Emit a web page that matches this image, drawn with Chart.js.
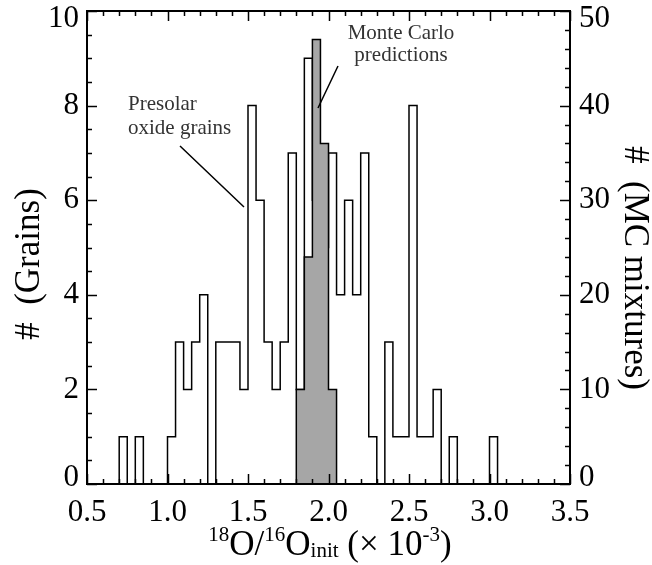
<!DOCTYPE html>
<html>
<head>
<meta charset="utf-8">
<script src="https://cdn.jsdelivr.net/npm/chart.js@4.4.0/dist/chart.umd.min.js"></script>
<style>
  html, body { margin: 0; padding: 0; background: #fff; }
  #wrap { width: 652px; height: 565px; }
</style>
</head>
<body>
<div id="wrap"><canvas id="grafico" width="652" height="565"></canvas></div>
<script>
// Histograma de granos presolares (eje izquierdo), bins de 0.05 desde 0.70
const binWidth = 0.05;
const grainStart = 0.70;
const grainCounts = [1, 0, 1, 0, 0, 0, 1, 3, 2, 3, 4, 0, 3, 3, 3, 2, 8, 6, 3, 2, 3, 7, 2, 9, 6, 5, 7, 4, 6, 4, 7, 1, 0, 3, 1, 1, 8, 1, 1, 2, 0, 1, 0, 0, 0, 0, 1];

// Predicciones Monte Carlo (eje derecho), bins desde 1.80
const mcStart = 1.80;
const mcCounts = [10, 24, 47, 36, 10];

// Etiquetas de los ejes
const xTicks = [0.5, 1.0, 1.5, 2.0, 2.5, 3.0, 3.5];
const yTicks = [0, 2, 4, 6, 8, 10];
const y2Ticks = [0, 10, 20, 30, 40, 50];

const serif = "'Liberation Serif', 'DejaVu Serif', serif";

// Convierte los conteos en puntos para un histograma escalonado
function stepPoints(start, counts) {
    const pts = [{ x: start, y: 0 }];
    counts.forEach((c, i) => pts.push({ x: +(start + i * binWidth).toFixed(3), y: c }));
    pts.push({ x: +(start + counts.length * binWidth).toFixed(3), y: 0 });
    return pts;
}

// Sin relleno extra por etiquetas que sobresalen
function noOverhang(s) {
    s.paddingTop = 0; s.paddingBottom = 0; s.paddingLeft = 0; s.paddingRight = 0;
}

// Dibuja marcos, ticks interiores, títulos y anotaciones
const decoPlugin = {
    id: "deco",
    afterDraw(chart) {
        const ctx = chart.ctx;
        const a = chart.chartArea;
        const sx = chart.scales.x, sy = chart.scales.y, sy2 = chart.scales.y2;
        ctx.save();
        ctx.strokeStyle = "#000";
        ctx.lineWidth = 1.5;

        // ticks del eje x (abajo y arriba)
        for (let i = 0; i <= 30; i++) {
            const v = 0.5 + i * 0.1;
            const px = Math.round(sx.getPixelForValue(v)) + 0.5;
            const len = (i % 5 === 0) ? 10 : 5;
            ctx.beginPath();
            ctx.moveTo(px, a.bottom); ctx.lineTo(px, a.bottom - len);
            ctx.moveTo(px, a.top); ctx.lineTo(px, a.top + len);
            ctx.stroke();
        }
        // ticks del eje izquierdo
        for (let i = 0; i <= 20; i++) {
            const py = Math.round(sy.getPixelForValue(i * 0.5)) + 0.5;
            const len = (i % 4 === 0) ? 10 : 5;
            ctx.beginPath();
            ctx.moveTo(a.left, py); ctx.lineTo(a.left + len, py);
            ctx.stroke();
        }
        // ticks del eje derecho
        for (let i = 0; i <= 25; i++) {
            const py = Math.round(sy2.getPixelForValue(i * 2)) + 0.5;
            const len = (i % 5 === 0) ? 10 : 5;
            ctx.beginPath();
            ctx.moveTo(a.right, py); ctx.lineTo(a.right - len, py);
            ctx.stroke();
        }
        // marco
        ctx.lineWidth = 2;
        ctx.strokeRect(a.left, a.top, a.right - a.left, a.bottom - a.top);

        // etiquetas de los ejes y (las extremas quedan dentro del marco)
        ctx.fillStyle = "#000";
        ctx.font = "31px " + serif;
        ctx.textBaseline = "middle";
        const clampY = y => Math.min(Math.max(y, a.top + 8), a.bottom - 6);
        ctx.textAlign = "right";
        yTicks.forEach(v => ctx.fillText(String(v), a.left - 8, clampY(sy.getPixelForValue(v))));
        ctx.textAlign = "left";
        y2Ticks.forEach(v => ctx.fillText(String(v), a.right + 9, clampY(sy2.getPixelForValue(v))));

        // título eje x con superíndices
        const big = "35px " + serif, small = "21px " + serif;
        const parts = [
            { t: "18", f: small, dy: -14 },
            { t: "O/", f: big, dy: 0 },
            { t: "16", f: small, dy: -14 },
            { t: "O", f: big, dy: 0 },
            { t: "init", f: small, dy: 2 },
            { t: " (\u00d7 10", f: big, dy: 0 },
            { t: "-3", f: small, dy: -14 },
            { t: ")", f: big, dy: 0 }
        ];
        let total = 0;
        parts.forEach(p => { ctx.font = p.f; p.w = ctx.measureText(p.t).width; total += p.w; });
        let x = 330 - total / 2;
        const base = 555;
        ctx.textBaseline = "alphabetic";
        ctx.textAlign = "left";
        parts.forEach(p => { ctx.font = p.f; ctx.fillText(p.t, x, base + p.dy); x += p.w; });

        // títulos de los ejes y
        ctx.font = big;
        ctx.textAlign = "center";
        ctx.textBaseline = "middle";
        ctx.save();
        ctx.translate(30, 264);
        ctx.rotate(-Math.PI / 2);
        ctx.fillText("#  (Grains)", 0, 0);
        ctx.restore();
        ctx.save();
        ctx.translate(634, 268);
        ctx.rotate(Math.PI / 2);
        ctx.fillText("#  (MC mixtures)", 0, 0);
        ctx.restore();

        // anotaciones
        ctx.fillStyle = "#333";
        ctx.font = "21px " + serif;
        ctx.textAlign = "left";
        ctx.textBaseline = "alphabetic";
        ctx.fillText("Presolar", 128, 110);
        ctx.fillText("oxide grains", 128, 134);
        ctx.textAlign = "center";
        ctx.fillText("Monte Carlo", 401, 39);
        ctx.fillText("predictions", 401, 61);
        ctx.strokeStyle = "#000";
        ctx.lineWidth = 1.5;
        ctx.beginPath();
        ctx.moveTo(180, 146); ctx.lineTo(244, 207);
        ctx.moveTo(338, 66); ctx.lineTo(318, 108);
        ctx.stroke();
        ctx.restore();
    }
};

new Chart(document.getElementById("grafico"), {
    type: "line",
    data: {
        datasets: [
            {
                label: "Monte Carlo predictions",
                data: stepPoints(mcStart, mcCounts),
                yAxisID: "y2",
                stepped: true,
                borderColor: "#000",
                borderWidth: 1.5,
                backgroundColor: "#a6a6a6",
                fill: "origin",
                pointRadius: 0,
                order: 1
            },
            {
                label: "Presolar oxide grains",
                data: stepPoints(grainStart, grainCounts),
                yAxisID: "y",
                stepped: true,
                borderColor: "#000",
                borderWidth: 1.5,
                fill: false,
                pointRadius: 0,
                order: 2
            }
        ]
    },
    options: {
        responsive: false,
        animation: false,
        events: [],
        layout: { padding: { top: 11, left: 0, right: 0, bottom: 0 } },
        plugins: { legend: { display: false }, tooltip: { enabled: false } },
        scales: {
            x: {
                type: "linear",
                min: 0.5, max: 3.5,
                afterBuildTicks: s => { s.ticks = xTicks.map(v => ({ value: v })); },
                afterFit: s => { s.height = 81; noOverhang(s); },
                grid: { display: false },
                border: { display: false },
                ticks: {
                    color: "#000",
                    font: { family: serif, size: 31 },
                    padding: 2,
                    maxRotation: 0,
                    callback: v => v.toFixed(1)
                }
            },
            y: {
                position: "left",
                min: 0, max: 10,
                afterBuildTicks: s => { s.ticks = yTicks.map(v => ({ value: v })); },
                afterFit: s => { s.width = 87; noOverhang(s); },
                grid: { display: false },
                border: { display: false },
                ticks: { display: false }
            },
            y2: {
                position: "right",
                min: 0, max: 50,
                afterBuildTicks: s => { s.ticks = y2Ticks.map(v => ({ value: v })); },
                afterFit: s => { s.width = 82; noOverhang(s); },
                grid: { display: false },
                border: { display: false },
                ticks: { display: false }
            }
        }
    },
    plugins: [decoPlugin]
});
</script>
</body>
</html>
